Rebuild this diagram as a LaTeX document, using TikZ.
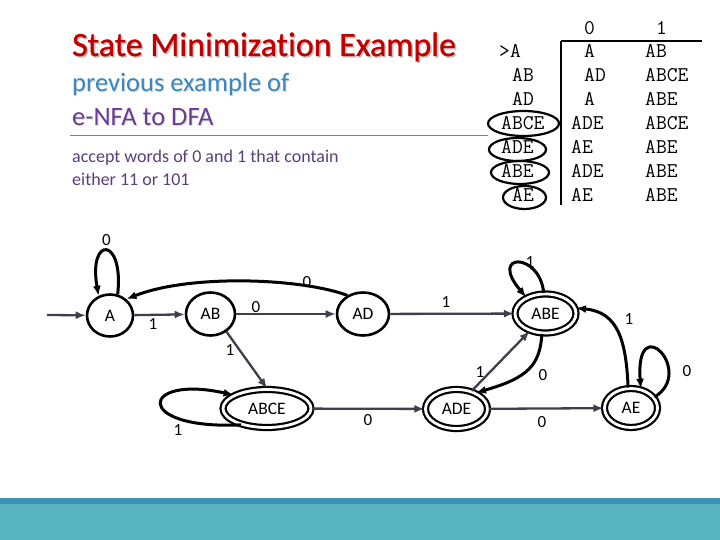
\documentclass[tikz,border=0pt]{standalone}
\usepackage{fontspec}
\setmainfont{Carlito}[Ligatures={TeX,NoCommon}]
\newfontfamily\titlefont{Carlito}[Ligatures={TeX,NoCommon},RawFeature={embolden=0.8}]
\usetikzlibrary{shapes.geometric,arrows.meta}
\definecolor{titlered}{HTML}{C00000}
\definecolor{subblue}{HTML}{3A88BE}
\definecolor{subpurple}{HTML}{6A3C92}
\definecolor{bodypurple}{HTML}{5A3E7A}
\definecolor{edgegray}{HTML}{3E3E4C}
\definecolor{banddark}{HTML}{3A93BB}
\definecolor{bandteal}{HTML}{58B5BF}
\tikzset{
  stt/.style={ellipse, draw=black, line width=2.6pt, inner sep=0pt,
    font=\fontsize{17.5}{17.5}\selectfont},
  acc/.style={stt, double=white, double distance=2.8pt, line width=2.2pt},
  edge/.style={draw=edgegray, line width=2.3pt, -{Latex[length=10pt,width=8pt]}},
  bedge/.style={draw=black, line width=3pt, -{Latex[length=10pt,width=8pt]}},
  lbl/.style={font=\fontsize{17}{17}\selectfont, inner sep=0pt},
  tab/.style={font=\ttfamily\fontsize{21}{21}\selectfont, anchor=base west, inner sep=0pt},
  ring/.style={ellipse, draw=black, line width=2.2pt, inner sep=0pt},
}
\begin{document}
\begin{tikzpicture}[x=1pt,y=-1pt]
\useasboundingbox (0,0) rectangle (720,540);
% bottom band
\fill[banddark] (0,498) rectangle (720,504);
\fill[bandteal] (0,504) rectangle (720,540);
% title and subtitles
\node[anchor=base west, inner sep=0pt, text=black!25, font=\titlefont\fontsize{34}{34}\selectfont] (tsh) at (73.5,57.5) {State Minimization Example};
\node[anchor=base west, inner sep=0pt, text=titlered, font=\titlefont\fontsize{34}{34}\selectfont] (title) at (72,56) {State Minimization Example};
\node[anchor=base west, inner sep=0pt, text=black!15, font=\fontsize{26.5}{26.5}\selectfont] (s1sh) at (73,93) {previous example of};
\node[anchor=base west, inner sep=0pt, text=subblue, font=\fontsize{26.5}{26.5}\selectfont] (sub1) at (72,92) {previous example of};
\node[anchor=base west, inner sep=0pt, text=black!15, font=\fontsize{26.5}{26.5}\selectfont] (s2sh) at (73,127) {e-NFA to DFA};
\node[anchor=base west, inner sep=0pt, text=subpurple, font=\fontsize{26.5}{26.5}\selectfont] (sub2) at (72,126) {e-NFA to DFA};
\draw[gray, line width=1pt] (70,136) -- (488,136);
\node[anchor=base west, inner sep=0pt, text=bodypurple, font=\fontsize{18}{18}\selectfont] (body1) at (72,163) {accept words of 0 and 1 that contain};
\node[anchor=base west, inner sep=0pt, text=bodypurple, font=\fontsize{18}{18}\selectfont] (body2) at (72,186) {either 11 or 101};
% table
\node[tab] (h0) at (584,35) {0};
\node[tab] (h1) at (656,35) {1};
\node[tab] (r1) at (499,58) {>A};
\node[tab] (r2) at (512,82) {AB};
\node[tab] (r3) at (512,106) {AD};
\node[tab] (r4) at (501,130) {ABCE};
\node[tab] (r5) at (501,154) {ADE};
\node[tab] (r6) at (501,178) {ABE};
\node[tab] (r7) at (512,202) {AE};
\node[tab] (z1) at (584,58) {A};
\node[tab] (z2) at (584,82) {AD};
\node[tab] (z3) at (584,106) {A};
\node[tab] (z4) at (571,130) {ADE};
\node[tab] (z5) at (571,154) {AE};
\node[tab] (z6) at (571,178) {ADE};
\node[tab] (z7) at (571,202) {AE};
\node[tab] (o1) at (645,58) {AB};
\node[tab] (o2) at (645,82) {ABCE};
\node[tab] (o3) at (645,106) {ABE};
\node[tab] (o4) at (645,130) {ABCE};
\node[tab] (o5) at (645,154) {ABE};
\node[tab] (o6) at (645,178) {ABE};
\node[tab] (o7) at (645,202) {ABE};
\draw[black, line width=2.2pt] (561,41) -- (702,41);
\draw[black, line width=2.2pt] (561,41) -- (561,205);
\node[ring, minimum width=71pt, minimum height=25pt] (g4) at (523.5,123.5) {};
\node[ring, minimum width=57pt, minimum height=23pt] (g5) at (517.5,149.5) {};
\node[ring, minimum width=58pt, minimum height=23pt] (g6) at (520,172.5) {};
\node[ring, minimum width=43pt, minimum height=23pt] (g7) at (524.5,197.5) {};
% states
\node[stt, minimum width=46pt, minimum height=42pt] (A) at (110,315.5) {A};
\node[stt, minimum width=49pt, minimum height=43pt] (AB) at (210.5,314) {AB};
\node[stt, minimum width=52pt, minimum height=43pt] (AD) at (363,314) {AD};
\node[acc, minimum width=61pt, minimum height=39pt] (ABE) at (545.5,313.5) {ABE};
\node[acc, minimum width=88pt, minimum height=38pt] (ABCE) at (267,408.5) {ABCE};
\node[acc, minimum width=62pt, minimum height=39pt] (ADE) at (456.5,409) {ADE};
\node[acc, minimum width=53pt, minimum height=39pt] (AE) at (631,408) {AE};
\coordinate (start) at (47,315);
% edges
\draw[edge] (start) -- (A);
\draw[edge] (A) -- (AB) node[lbl, at={(153,324)}] (l1) {1};
\draw[edge] (AB) -- (AD) node[lbl, at={(256,307)}] (l2) {0};
\draw[bedge] (AD.130) .. controls (300,278) and (190,274) .. (A.45) node[lbl, at={(307,282)}] (l3) {0};
\draw[bedge] (A.70) .. controls (124,236) and (88,236) .. (A.120) node[lbl, at={(106.5,240)}] (l4) {0};
\draw[edge] (AB.-48) -- (ABCE.north) node[lbl, at={(230,350)}] (l5) {1};
\draw[bedge] (ABCE.212) .. controls (132,430) and (140,374) .. (ABCE.158) node[lbl, at={(178,430)}] (l6) {1};
\draw[edge] (AD) -- (ABE) node[lbl, at={(446,302)}] (l7) {1};
\draw[bedge] (ABE.95) .. controls (540,252) and (488,252) .. (ABE.140) node[lbl, at={(530,262)}] (l8) {1};
\draw[edge] (ABCE) -- (ADE) node[lbl, at={(368,420)}] (l9) {0};
\draw[edge] (ADE.50) -- (ABE.228) node[lbl, at={(480,372)}] (l10) {1};
\draw[bedge] (ABE.260) .. controls (540,365) and (528,378) .. (ADE.40) node[lbl, at={(543,375)}] (l11) {0};
\draw[edge] (ADE) -- (AE) node[lbl, at={(542,422)}] (l12) {0};
\draw[bedge] (AE.98) .. controls (626,340) and (618,312) .. (ABE.10) node[lbl, at={(629,319)}] (l13) {1};
\draw[bedge] (AE.25) .. controls (696,372) and (635,308) .. (AE.63) node[lbl, at={(687,371)}] (l14) {0};
\end{tikzpicture}
\end{document}
